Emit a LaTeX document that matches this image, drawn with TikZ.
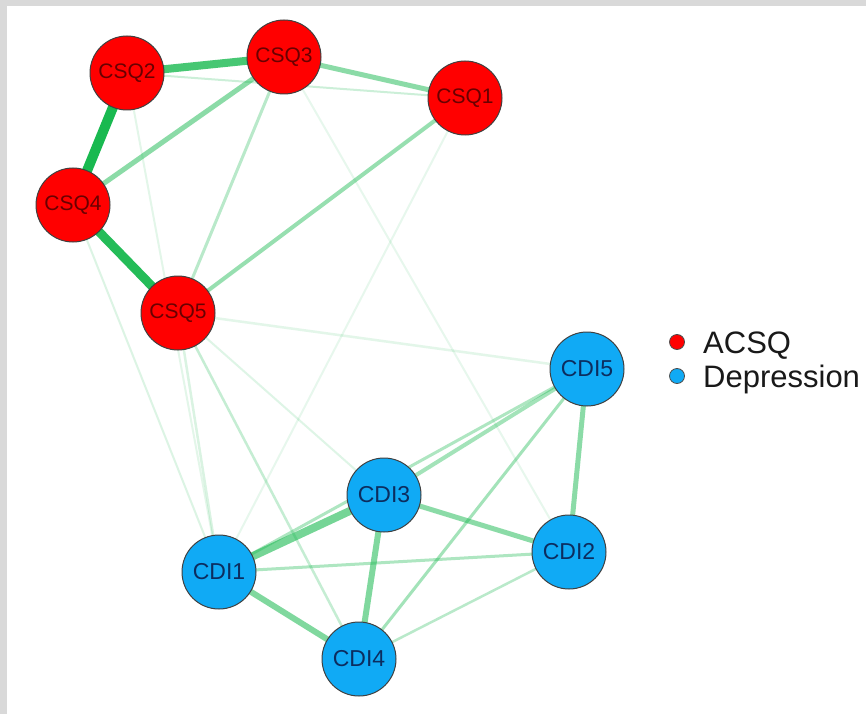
\documentclass[tikz,border=0pt]{standalone}
\usepackage{fontspec}
\setmainfont{Liberation Sans}
\pgfdeclarelayer{frame}
\pgfdeclarelayer{edges}
\pgfsetlayers{frame,edges,main}
\definecolor{edgegreen}{RGB}{25,185,80}
\definecolor{acsqred}{RGB}{255,0,0}
\definecolor{depblue}{RGB}{16,170,245}
\definecolor{acsqtext}{RGB}{105,0,0}
\definecolor{deptext}{RGB}{12,45,95}
\definecolor{framegray}{RGB}{217,217,217}
\tikzset{
  acsq/.style={circle, fill=acsqred, draw=black!75, line width=1pt,
    minimum size=74pt, inner sep=0pt, text=acsqtext,
    font=\fontsize{21}{21}\selectfont},
  dep/.style={circle, fill=depblue, draw=black!75, line width=1pt,
    minimum size=74pt, inner sep=0pt, text=deptext,
    font=\fontsize{23}{23}\selectfont},
  wedge/.style n args={2}{draw=edgegreen, line width=#1pt, draw opacity=#2},
  legdot/.style={circle, draw=black!70, line width=0.8pt, minimum size=15pt, inner sep=0pt},
  legtext/.style={anchor=base west, inner sep=0pt, font=\fontsize{31}{31}\selectfont, text=black!90}
}
\begin{document}
\begin{tikzpicture}[x=1pt, y=-1pt]
  \useasboundingbox (0,0) rectangle (866,714);
  \begin{pgfonlayer}{frame}
    \fill[framegray] (0,0) rectangle (866,714);
    \fill[white] (7,6) rectangle (866,714);
  \end{pgfonlayer}

  % ACSQ items
  \node[acsq] (csq2) at (127,73) {CSQ2};
  \node[acsq] (csq3) at (284,57) {CSQ3};
  \node[acsq] (csq1) at (465,98) {CSQ1};
  \node[acsq] (csq4) at (73,205) {CSQ4};
  \node[acsq] (csq5) at (178,313) {CSQ5};

  % Depression items
  \node[dep] (cdi5) at (587,369) {CDI5};
  \node[dep] (cdi3) at (384,495) {CDI3};
  \node[dep] (cdi2) at (569,552) {CDI2};
  \node[dep] (cdi1) at (219,572) {CDI1};
  \node[dep] (cdi4) at (359,659) {CDI4};

  % Partial correlation edges, width and opacity by strength
  \begin{pgfonlayer}{edges}
    % weak cross-community edges
    \draw[wedge={2}{0.12}] (csq2.center) -- (cdi1.center);
    \draw[wedge={2}{0.15}] (csq4.center) -- (cdi1.center);
    \draw[wedge={2.5}{0.16}] (csq5.center) -- (cdi1.center);
    \draw[wedge={2.5}{0.25}] (csq5.center) -- (cdi4.center);
    \draw[wedge={2}{0.14}] (csq5.center) -- (cdi3.center);
    \draw[wedge={2.5}{0.12}] (csq5.center) -- (cdi5.center);
    \draw[wedge={2}{0.10}] (csq1.center) -- (cdi1.center);
    \draw[wedge={2}{0.10}] (csq3.center) -- (cdi2.center);
    % ACSQ edges
    \draw[wedge={2}{0.22}] (csq2.center) -- (csq1.center);
    \draw[wedge={3}{0.30}] (csq3.center) -- (csq5.center);
    \draw[wedge={4}{0.45}] (csq1.center) -- (csq5.center);
    \draw[wedge={5}{0.50}] (csq3.center) -- (csq4.center);
    \draw[wedge={5}{0.50}] (csq3.center) -- (csq1.center);
    \draw[wedge={8}{0.80}] (csq2.center) -- (csq3.center);
    \draw[wedge={9}{0.95}] (csq4.center) -- (csq5.center);
    \draw[wedge={10}{1.00}] (csq2.center) -- (csq4.center);
    % Depression edges
    \draw[wedge={2.5}{0.30}] (cdi4.center) -- (cdi2.center);
    \draw[wedge={3}{0.35}] (cdi1.center) -- (cdi2.center);
    \draw[wedge={3}{0.35}] (cdi5.center) -- (cdi1.center);
    \draw[wedge={3}{0.40}] (cdi5.center) -- (cdi4.center);
    \draw[wedge={4}{0.40}] (cdi5.center) -- (cdi3.center);
    \draw[wedge={5}{0.50}] (cdi5.center) -- (cdi2.center);
    \draw[wedge={5}{0.50}] (cdi3.center) -- (cdi2.center);
    \draw[wedge={6}{0.55}] (cdi1.center) -- (cdi4.center);
    \draw[wedge={6}{0.55}] (cdi3.center) -- (cdi4.center);
    \draw[wedge={8}{0.60}] (cdi1.center) -- (cdi3.center);
  \end{pgfonlayer}

  % Legend
  \node[legdot, fill=acsqred] (legA) at (677,342) {};
  \node[legdot, fill=depblue] (legD) at (677,376) {};
  \node[legtext] (legAt) at (703,353) {ACSQ};
  \node[legtext] (legDt) at (703,387) {Depression};
\end{tikzpicture}
\end{document}
